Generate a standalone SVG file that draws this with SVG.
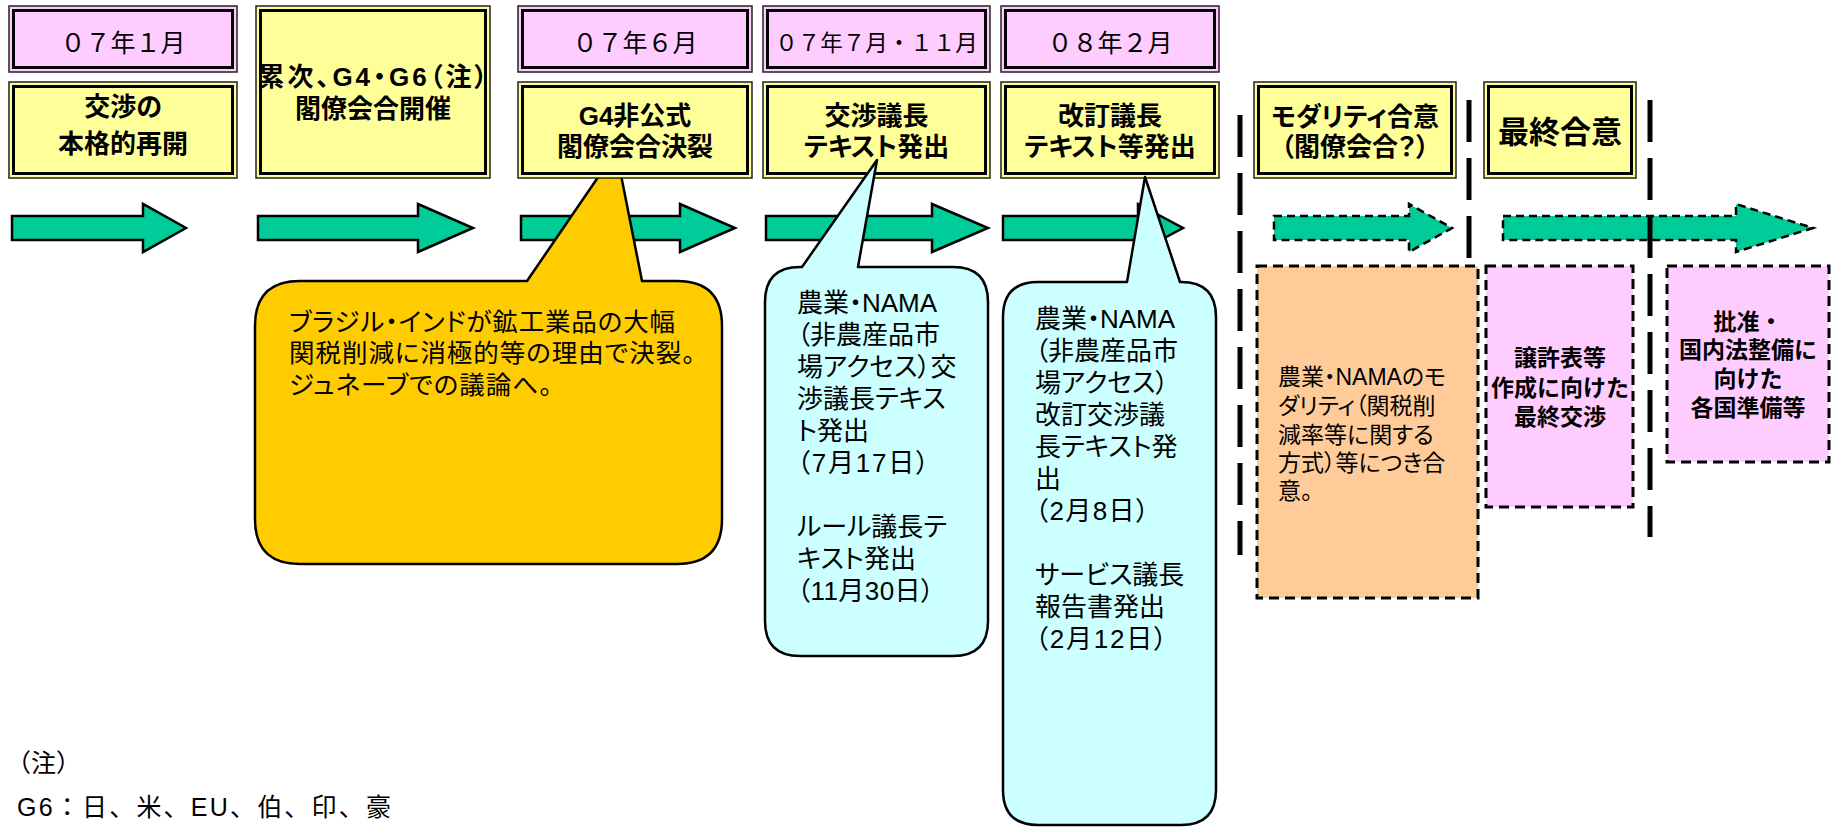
<svg xmlns="http://www.w3.org/2000/svg" width="1832" height="827" viewBox="0 0 1832 827">
<style>
text { font-family: "Liberation Sans", "Noto Sans CJK JP", sans-serif; fill: #000; }
.lbl { font-size: 25px; text-anchor: middle; }
.hd { font-size: 26px; font-weight: bold; text-anchor: middle; font-feature-settings: "palt"; }
.co { font-size: 25.5px; font-feature-settings: "palt"; }
.cy { font-size: 26px; font-feature-settings: "palt"; }
.bx { font-size: 23px; font-feature-settings: "palt"; }
.bxb { font-size: 23px; font-weight: bold; text-anchor: middle; }
.note { font-size: 25px; }
.pink { fill: #FFCCFF; }
.yel { fill: #FFFF99; }
.outer { stroke: #222; stroke-width: 1.5; }
.inner { fill: none; stroke: #000; stroke-width: 3; }
.arr { fill: #00CC99; stroke: #000; stroke-width: 2.5; stroke-linejoin: miter; }
.arrd { fill: #00CC99; stroke: #000; stroke-width: 2.5; stroke-dasharray: 8 5; }
.sep { stroke: #000; stroke-width: 5; stroke-dasharray: 42 16; fill: none; }
.call { stroke: #000; stroke-width: 2.5; stroke-linejoin: round; }
.dbox { stroke: #000; stroke-width: 3; stroke-dasharray: 10 6; }
</style>

<g id="timeline-arrows">
  <polygon class="arr" points="12,216 143,216 143,204 186,228 143,252 143,240 12,240"/>
  <polygon class="arr" points="258,216 418,216 418,204 473,228 418,252 418,240 258,240"/>
  <polygon class="arr" points="521,216 680,216 680,204 735,228 680,252 680,240 521,240"/>
  <polygon class="arr" points="766,216 932,216 932,204 988,228 932,252 932,240 766,240"/>
  <polygon class="arr" points="1003,216 1138,216 1138,204 1183,228 1138,252 1138,240 1003,240"/>
  <polygon class="arrd" points="1274,216 1409,216 1409,204 1452,228 1409,252 1409,240 1274,240"/>
  <polygon class="arrd" points="1503,216 1736,216 1736,204 1813,228 1736,252 1736,240 1503,240"/>
</g>

<g id="callout-g4">
  <path class="call" fill="#FFCC00" d="M527,281 L603,170 L620,170 L642,281 H677 Q722,281 722,326 V519 Q722,564 677,564 H300 Q255,564 255,519 V326 Q255,281 300,281 Z"/>
  <text class="co" x="289" y="331" textLength="386">ブラジル・インドが鉱工業品の大幅</text>
  <text class="co" x="289" y="362" textLength="406">関税削減に消極的等の理由で決裂。</text>
  <text class="co" x="289" y="394" textLength="263">ジュネーブでの議論へ。</text>
</g>

<g id="date-0701">
  <rect class="pink outer" x="9" y="6" width="228" height="66"/>
  <rect class="inner" x="13.5" y="10.5" width="219" height="57"/>
  <text class="lbl" x="123" y="52">０７年１月</text>
</g>
<g id="date-0706">
  <rect class="pink outer" x="518" y="6" width="234" height="66"/>
  <rect class="inner" x="522.5" y="10.5" width="225" height="57"/>
  <text class="lbl" x="635" y="52">０７年６月</text>
</g>
<g id="date-0707">
  <rect class="pink outer" x="763" y="6" width="227" height="66"/>
  <rect class="inner" x="767.5" y="10.5" width="218" height="57"/>
  <text class="lbl" x="876.5" y="51" style="font-size:22.5px">０７年７月・１１月</text>
</g>
<g id="date-0802">
  <rect class="pink outer" x="1001" y="6" width="218" height="66"/>
  <rect class="inner" x="1005.5" y="10.5" width="209" height="57"/>
  <text class="lbl" x="1110" y="52">０８年２月</text>
</g>

<g id="event-restart">
  <rect class="yel outer" x="9" y="82" width="228" height="96"/>
  <rect class="inner" x="13.5" y="86.5" width="219" height="87"/>
  <text class="hd" x="123" y="116">交渉の</text>
  <text class="hd" x="123" y="153">本格的再開</text>
</g>
<g id="event-ministerial">
  <rect class="yel outer" x="256" y="6" width="234" height="172"/>
  <rect class="inner" x="260.5" y="10.5" width="225" height="163"/>
  <text class="hd" x="373" y="86" textLength="229">累次、G4・G6（注）</text>
  <text class="hd" x="373" y="118">閣僚会合開催</text>
</g>
<g id="event-g4">
  <rect class="yel outer" x="518" y="82" width="234" height="96"/>
  <rect class="inner" x="522.5" y="86.5" width="225" height="87"/>
  <text class="hd" x="635" y="125">G4非公式</text>
  <text class="hd" x="635" y="156">閣僚会合決裂</text>
</g>
<g id="event-text">
  <rect class="yel outer" x="763" y="82" width="227" height="96"/>
  <rect class="inner" x="767.5" y="86.5" width="218" height="87"/>
  <text class="hd" x="876.5" y="125">交渉議長</text>
  <text class="hd" x="876.5" y="156">テキスト発出</text>
</g>
<g id="event-revised">
  <rect class="yel outer" x="1001" y="82" width="218" height="96"/>
  <rect class="inner" x="1005.5" y="86.5" width="209" height="87"/>
  <text class="hd" x="1110" y="125">改訂議長</text>
  <text class="hd" x="1110" y="156">テキスト等発出</text>
</g>
<g id="event-modality">
  <rect class="yel outer" x="1254" y="82" width="202" height="96"/>
  <rect class="inner" x="1258.5" y="86.5" width="193" height="87"/>
  <text class="hd" x="1355" y="126">モダリティ合意</text>
  <text class="hd" x="1355" y="156">（閣僚会合？）</text>
</g>
<g id="event-final">
  <rect class="yel outer" x="1484" y="82" width="152" height="96"/>
  <rect class="inner" x="1488.5" y="86.5" width="143" height="87"/>
  <text class="hd" x="1560" y="143" style="font-size:31px">最終合意</text>
</g>

<g id="callout-text">
  <path class="call" fill="#CCFFFF" d="M802,267 L877,160 L858,267 H953 Q988,267 988,302 V621 Q988,656 953,656 H800 Q765,656 765,621 V302 Q765,267 800,267 Z"/>
  <text class="cy" x="797" y="312">農業・NAMA</text>
  <text class="cy" x="797" y="344">（非農産品市</text>
  <text class="cy" x="797" y="376">場アクセス）交</text>
  <text class="cy" x="797" y="408">渉議長テキス</text>
  <text class="cy" x="797" y="440">ト発出</text>
  <text class="cy" x="797" y="472" textLength="132">（7月17日）</text>
  <text class="cy" x="797" y="536">ルール議長テ</text>
  <text class="cy" x="797" y="568">キスト発出</text>
  <text class="cy" x="797" y="600" textLength="137">（11月30日）</text>
</g>

<g id="callout-revised">
  <path class="call" fill="#CCFFFF" d="M1127,282 L1145,177 L1180,282 H1181 Q1216,282 1216,317 V790 Q1216,825 1181,825 H1038 Q1003,825 1003,790 V317 Q1003,282 1038,282 Z"/>
  <text class="cy" x="1035" y="328">農業・NAMA</text>
  <text class="cy" x="1035" y="360">（非農産品市</text>
  <text class="cy" x="1035" y="392">場アクセス）</text>
  <text class="cy" x="1035" y="424">改訂交渉議</text>
  <text class="cy" x="1035" y="456">長テキスト発</text>
  <text class="cy" x="1035" y="488">出</text>
  <text class="cy" x="1035" y="520" textLength="114">（2月8日）</text>
  <text class="cy" x="1035" y="584">サービス議長</text>
  <text class="cy" x="1035" y="616">報告書発出</text>
  <text class="cy" x="1035" y="648" textLength="132">（2月12日）</text>
</g>

<g id="box-modality">
  <rect class="dbox" fill="#FFCC99" x="1257" y="266" width="221" height="332"/>
  <text class="bx" x="1278" y="385">農業・NAMAのモ</text>
  <text class="bx" x="1278" y="414">ダリティ（関税削</text>
  <text class="bx" x="1278" y="443">減率等に関する</text>
  <text class="bx" x="1278" y="471">方式）等につき合</text>
  <text class="bx" x="1278" y="499">意。</text>
</g>
<g id="box-final">
  <rect class="dbox" fill="#FFCCFF" x="1486" y="266" width="147" height="241"/>
  <text class="bxb" x="1560" y="366">譲許表等</text>
  <text class="bxb" x="1560" y="396">作成に向けた</text>
  <text class="bxb" x="1560" y="425">最終交渉</text>
</g>
<g id="box-ratify">
  <rect class="dbox" fill="#FFCCFF" x="1667" y="266" width="162" height="196"/>
  <text class="bxb" x="1748" y="330">批准・</text>
  <text class="bxb" x="1748" y="358">国内法整備に</text>
  <text class="bxb" x="1748" y="387">向けた</text>
  <text class="bxb" x="1748" y="416">各国準備等</text>
</g>

<g id="separators">
  <line class="sep" x1="1240" y1="115" x2="1240" y2="555"/>
  <line class="sep" x1="1469" y1="100" x2="1469" y2="258"/>
  <line class="sep" x1="1650" y1="100" x2="1650" y2="537"/>
</g>

<g id="note">
  <text class="note" x="6" y="772">（注）</text>
  <text class="note" x="17" y="816" textLength="374">G6：日、米、EU、伯、印、豪</text>
</g>
</svg>
